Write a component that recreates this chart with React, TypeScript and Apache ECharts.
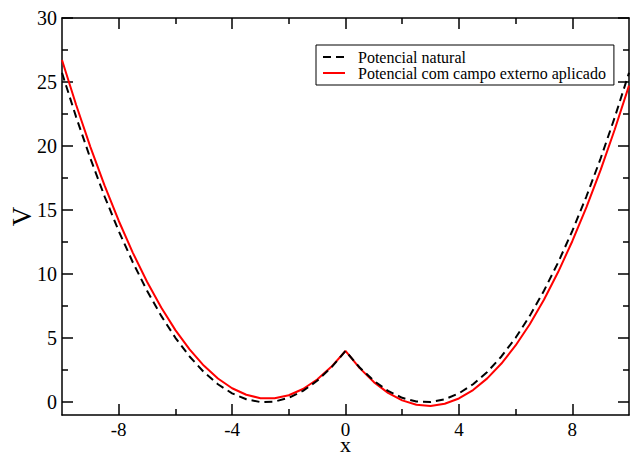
import React, { useEffect, useRef } from "react";
import * as echarts from "echarts";

const xs = [
  -10, -9.5, -9, -8.5, -8, -7.5, -7, -6.5, -6, -5.5, -5, -4.5, -4, -3.5, -3, -2.5, -2, -1.5, -1, -0.5,
  0, 0.5, 1, 1.5, 2, 2.5, 3, 3.5, 4, 4.5, 5, 5.5, 6, 6.5, 7, 7.5, 8, 8.5, 9, 9.5, 10,
];

const natural = [
  25.72, 22.26, 19.04, 16.08, 13.37, 10.91, 8.7, 6.74, 5.03, 3.57, 2.36, 1.4, 0.69, 0.23, 0.01, 0.05, 0.34, 0.88, 1.67, 2.71,
  4.0, 2.71, 1.67, 0.88, 0.34, 0.05, 0.01, 0.23, 0.69, 1.4, 2.36, 3.57, 5.03, 6.74, 8.7, 10.91, 13.37, 16.08, 19.04, 22.26, 25.72,
];

const withField = [
  26.72, 23.21, 19.94, 16.93, 14.17, 11.66, 9.4, 7.39, 5.63, 4.12, 2.86, 1.85, 1.09, 0.58, 0.31, 0.3, 0.54, 1.03, 1.77, 2.76,
  4.0, 2.66, 1.57, 0.73, 0.14, -0.2, -0.29, -0.12, 0.29, 0.95, 1.86, 3.02, 4.43, 6.09, 8.0, 10.16, 12.57, 15.23, 18.14, 21.31, 24.72,
];

const xMajor = [-8, -4, 0, 4, 8];
const xMinor = [-6, -2, 2, 6];
const yMajor = [0, 5, 10, 15, 20, 25, 30];
const yMinor = [2.5, 7.5, 12.5, 17.5, 22.5, 27.5];

const seriesNames = ["Potencial natural", "Potencial com campo externo aplicado"];

const FONT = "Liberation Serif, DejaVu Serif, serif";

export default function App() {
  const ref = useRef<HTMLDivElement>(null);
  useEffect(() => {
    if (!ref.current) return;
    const chart = echarts.init(ref.current, undefined, { renderer: "svg" });
    const axisLine = { show: true, onZero: false, lineStyle: { color: "#000", width: 1.5 } };
    const tickStyle = { color: "#000", width: 1.5 };
    const grid = { left: 62, top: 18, width: 567, height: 397, containLabel: false, outerBoundsMode: "none" };
    const xBase = (gridIndex: number, position: string, values: number[], len: number, showLine: boolean) => ({
      type: "value",
      gridIndex,
      position,
      min: -10,
      max: 10,
      axisLine: showLine ? axisLine : { show: false, onZero: false },
      axisTick: { show: true, inside: true, length: len, customValues: values, lineStyle: tickStyle },
      axisLabel: { show: false },
      splitLine: { show: false },
    });
    const yBase = (gridIndex: number, position: string, values: number[], len: number, showLine: boolean) => ({
      type: "value",
      gridIndex,
      position,
      min: -1,
      max: 30,
      axisLine: showLine ? axisLine : { show: false, onZero: false },
      axisTick: { show: true, inside: true, length: len, customValues: values, lineStyle: tickStyle },
      axisLabel: { show: false },
      splitLine: { show: false },
    });
    const xBottom: any = xBase(0, "bottom", xMajor, 11, true);
    xBottom.axisLabel = {
      show: true,
      customValues: xMajor,
      color: "#000",
      fontSize: 19,
      lineHeight: 14,
      fontFamily: FONT,
      margin: 7,
    };
    xBottom.name = "x";
    xBottom.nameLocation = "middle";
    xBottom.nameGap = 21;
    xBottom.nameMoveOverlap = false;
    xBottom.nameTextStyle = { color: "#000", fontSize: 22, lineHeight: 16, fontFamily: FONT };
    const yLeft: any = yBase(0, "left", yMajor, 11, true);
    yLeft.axisLabel = {
      show: true,
      customValues: yMajor,
      color: "#000",
      fontSize: 20,
      fontFamily: FONT,
      margin: 5,
    };
    yLeft.name = "V";
    yLeft.nameLocation = "middle";
    yLeft.nameGap = 27;
    yLeft.nameMoveOverlap = false;
    yLeft.nameTextStyle = { color: "#000", fontSize: 27, fontFamily: FONT };

    chart.setOption({
      animation: false,
      backgroundColor: "#fff",
      textStyle: { fontFamily: FONT },
      grid: [grid, grid],
      legend: {
        show: true,
        orient: "vertical",
        left: 316,
        top: 45,
        data: seriesNames,
        borderColor: "#000",
        borderWidth: 1,
        padding: [4, 8, 4, 6],
        itemGap: 0,
        itemWidth: 22,
        itemHeight: 18,
        itemStyle: { opacity: 0 },
        textStyle: { color: "#000", fontSize: 16, fontFamily: FONT, padding: [0, 0, 0, 8] },
      },
      xAxis: [
        xBottom,
        xBase(0, "top", xMajor, 11, true),
        xBase(1, "bottom", xMinor, 6, false),
        xBase(1, "top", xMinor, 6, false),
      ],
      yAxis: [
        yLeft,
        yBase(0, "right", yMajor, 11, true),
        yBase(1, "left", yMinor, 6, false),
        yBase(1, "right", yMinor, 6, false),
      ],
      series: [
        {
          name: seriesNames[0],
          type: "line",
          xAxisIndex: 0,
          yAxisIndex: 0,
          data: xs.map((x, i) => [x, natural[i]]),
          showSymbol: false,
          symbol: "none",
          lineStyle: { color: "#000", width: 2, type: [8, 5] },
          itemStyle: { color: "#000" },
          z: 3,
        },
        {
          name: seriesNames[1],
          type: "line",
          xAxisIndex: 0,
          yAxisIndex: 0,
          data: xs.map((x, i) => [x, withField[i]]),
          showSymbol: false,
          symbol: "none",
          lineStyle: { color: "#ff0000", width: 2 },
          itemStyle: { color: "#ff0000" },
          z: 2,
        },
      ],
    });
    return () => chart.dispose();
  }, []);
  return (
    <div
      ref={ref}
      style={{ position: "fixed", left: 0, top: 0, width: 630, height: 452, background: "#fff" }}
    />
  );
}
